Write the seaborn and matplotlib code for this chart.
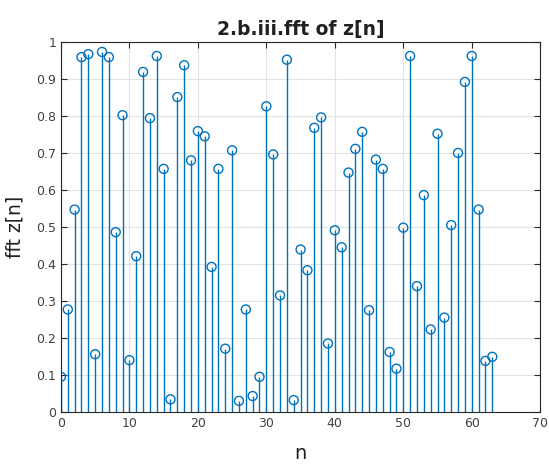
import numpy as np
import pandas as pd
import matplotlib
matplotlib.use("Agg")
import matplotlib.pyplot as plt
import seaborn as sns

n = list(range(64))
values = [0.095, 0.277, 0.547, 0.959, 0.967, 0.156, 0.973, 0.959, 0.486, 0.802,
          0.140, 0.421, 0.919, 0.794, 0.962, 0.657, 0.034, 0.851, 0.937, 0.680,
          0.759, 0.745, 0.392, 0.657, 0.171, 0.707, 0.030, 0.277, 0.043, 0.095,
          0.826, 0.696, 0.315, 0.952, 0.032, 0.439, 0.383, 0.768, 0.796, 0.185,
          0.491, 0.445, 0.647, 0.711, 0.757, 0.275, 0.682, 0.657, 0.162, 0.117,
          0.498, 0.962, 0.340, 0.586, 0.223, 0.752, 0.255, 0.505, 0.700, 0.892,
          0.962, 0.547, 0.138, 0.149]
xticks = [0, 10, 20, 30, 40, 50, 60, 70]
yticks = [0, 0.1, 0.2, 0.3, 0.4, 0.5, 0.6, 0.7, 0.8, 0.9, 1]
ytick_labels = ["0", "0.1", "0.2", "0.3", "0.4", "0.5", "0.6", "0.7", "0.8", "0.9", "1"]

df = pd.DataFrame({"n": n, "v": values})

sns.set_style("whitegrid")
plt.rcParams['font.family'] = ['DejaVu Sans']

color = "#0072BD"
fig = plt.figure(figsize=(5.49, 4.66), dpi=100)
ax = fig.add_axes([0.111, 0.116, 0.873, 0.794])

ax.vlines(df["n"], 0, df["v"], color=color, linewidth=1.0, zorder=2)
sns.scatterplot(data=df, x="n", y="v", ax=ax, marker="o", s=42,
                facecolor="none", edgecolor=color, linewidth=1.0, zorder=3)

ax.set_xlim(0, 70)
ax.set_ylim(0, 1)
ax.set_xticks(xticks)
ax.set_xticklabels([str(t) for t in xticks])
ax.set_yticks(yticks)
ax.set_yticklabels(ytick_labels)
ax.grid(True, color="#e3e3e3", linewidth=0.8)
for s in ax.spines.values():
    s.set_color("#262626")
    s.set_linewidth(0.8)
ax.tick_params(axis="both", direction="in", length=4, colors="#262626",
               labelsize=9, labelcolor="#404040", top=True, right=True,
               bottom=True, left=True)
ax.set_xlabel("n", fontsize=14, color="#202020", labelpad=10)
ax.set_ylabel("fft z[n]", fontsize=13.5, color="#202020", labelpad=8)
ax.set_title("2.b.iii.fft of z[n]", fontsize=13.5, fontweight="bold", color="#202020", pad=5)

fig.savefig("out.png", dpi=100, facecolor="white")
